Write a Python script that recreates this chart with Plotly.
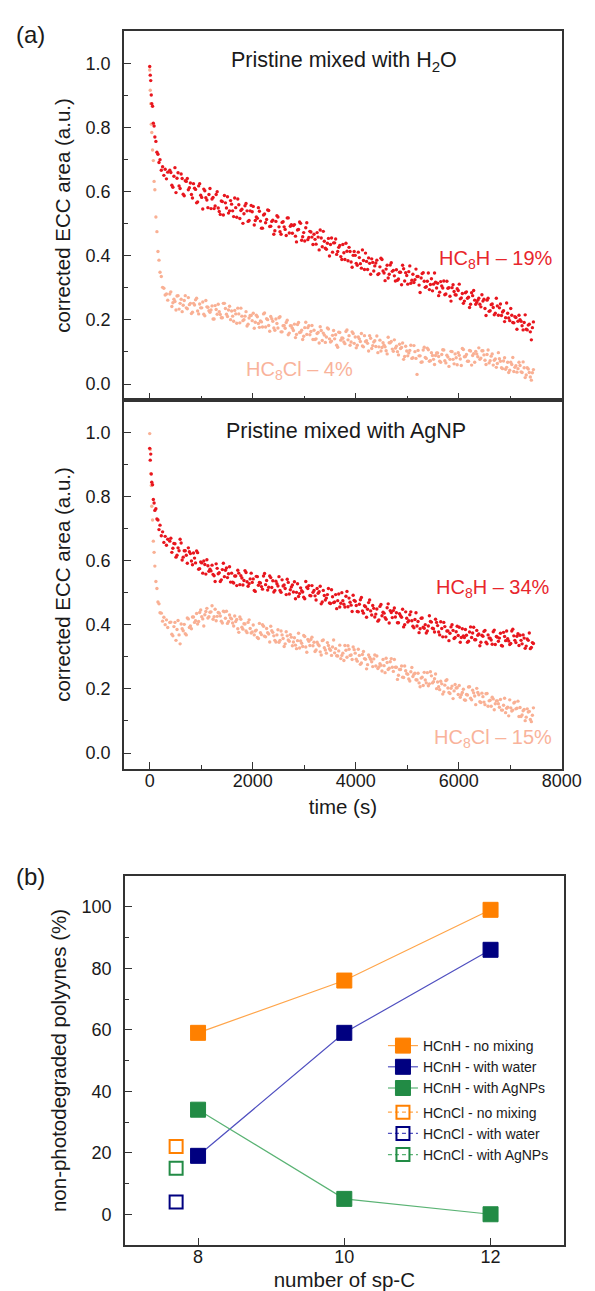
import plotly.graph_objects as go

# ---------------- data: panel (a) ----------------
# first sampling pass (time in s)
time_s = [
    0, 10, 20, 30, 40, 55, 70, 85, 100, 120,
    140, 160, 180, 200, 225, 250, 275, 300, 325, 350,
    390, 430, 470, 510, 550, 590, 630, 670, 710, 750,
    790, 830, 870, 910, 950, 990, 1030, 1070, 1110, 1150,
    1190, 1230, 1270, 1310, 1350, 1390, 1430, 1470, 1510, 1550,
    1590, 1630, 1670, 1710, 1750, 1790, 1830, 1870, 1910, 1950,
    1990, 2030, 2070, 2110, 2150, 2190, 2230, 2270, 2310, 2350,
    2390, 2430, 2470, 2510, 2550, 2590, 2630, 2670, 2710, 2750,
    2790, 2830, 2870, 2910, 2950, 2990, 3030, 3070, 3110, 3150,
    3190, 3230, 3270, 3310, 3350, 3390, 3430, 3470, 3510, 3550,
    3590, 3630, 3670, 3710, 3750, 3790, 3830, 3870, 3910, 3950,
    3990, 4030, 4070, 4110, 4150, 4190, 4230, 4270, 4310, 4350,
    4390, 4430, 4470, 4510, 4550, 4590, 4630, 4670, 4710, 4750,
    4790, 4830, 4870, 4910, 4950, 4990, 5030, 5070, 5110, 5150,
    5190, 5230, 5270, 5310, 5350, 5390, 5430, 5470, 5510, 5550,
    5590, 5630, 5670, 5710, 5750, 5790, 5830, 5870, 5910, 5950,
    5990, 6030, 6070, 6110, 6150, 6190, 6230, 6270, 6310, 6350,
    6390, 6430, 6470, 6510, 6550, 6590, 6630, 6670, 6710, 6750,
    6790, 6830, 6870, 6910, 6950, 6990, 7030, 7070, 7110, 7150,
    7190, 7230, 7270, 7310, 7350, 7390, 7430,
]

# second sampling pass (interleaved times, s)
time_s_b = [
    410, 450, 490, 530, 570, 610, 650, 690, 730, 770,
    810, 850, 890, 930, 970, 1010, 1050, 1090, 1130, 1170,
    1210, 1250, 1290, 1330, 1370, 1410, 1450, 1490, 1530, 1570,
    1610, 1650, 1690, 1730, 1770, 1810, 1850, 1890, 1930, 1970,
    2010, 2050, 2090, 2130, 2170, 2210, 2250, 2290, 2330, 2370,
    2410, 2450, 2490, 2530, 2570, 2610, 2650, 2690, 2730, 2770,
    2810, 2850, 2890, 2930, 2970, 3010, 3050, 3090, 3130, 3170,
    3210, 3250, 3290, 3330, 3370, 3410, 3450, 3490, 3530, 3570,
    3610, 3650, 3690, 3730, 3770, 3810, 3850, 3890, 3930, 3970,
    4010, 4050, 4090, 4130, 4170, 4210, 4250, 4290, 4330, 4370,
    4410, 4450, 4490, 4530, 4570, 4610, 4650, 4690, 4730, 4770,
    4810, 4850, 4890, 4930, 4970, 5010, 5050, 5090, 5130, 5170,
    5210, 5250, 5290, 5330, 5370, 5410, 5450, 5490, 5530, 5570,
    5610, 5650, 5690, 5730, 5770, 5810, 5850, 5890, 5930, 5970,
    6010, 6050, 6090, 6130, 6170, 6210, 6250, 6290, 6330, 6370,
    6410, 6450, 6490, 6530, 6570, 6610, 6650, 6690, 6730, 6770,
    6810, 6850, 6890, 6930, 6970, 7010, 7050, 7090, 7130, 7170,
    7210, 7250, 7290, 7330, 7370, 7410, 7450,
]

# Pristine mixed with H2O -- HC8H
h2o_hc8h = [
    0.992, 0.965, 0.948, 0.903, 0.876, 0.868, 0.815, 0.806, 0.772, 0.758,
    0.724, 0.718, 0.692, 0.701, 0.668, 0.679, 0.652, 0.671, 0.641, 0.662,
    0.668, 0.621, 0.649, 0.598, 0.660, 0.611, 0.642, 0.588, 0.633, 0.607,
    0.628, 0.581, 0.612, 0.566, 0.619, 0.590, 0.547, 0.604, 0.575, 0.592,
    0.548, 0.583, 0.556, 0.601, 0.539, 0.572, 0.528, 0.566, 0.585, 0.541,
    0.562, 0.523, 0.551, 0.578, 0.517, 0.546, 0.532, 0.564, 0.508, 0.541,
    0.538, 0.497, 0.522, 0.551, 0.509, 0.487, 0.531, 0.514, 0.542, 0.493,
    0.512, 0.479, 0.526, 0.491, 0.468, 0.507, 0.483, 0.519, 0.472, 0.498,
    0.495, 0.462, 0.481, 0.506, 0.449, 0.473, 0.488, 0.451, 0.477, 0.459,
    0.468, 0.437, 0.459, 0.481, 0.429, 0.446, 0.421, 0.455, 0.436, 0.412,
    0.441, 0.405, 0.427, 0.398, 0.436, 0.389, 0.415, 0.427, 0.381, 0.402,
    0.402, 0.371, 0.395, 0.362, 0.386, 0.409, 0.358, 0.377, 0.391, 0.353,
    0.378, 0.342, 0.366, 0.389, 0.347, 0.359, 0.331, 0.372, 0.352, 0.338,
    0.357, 0.328, 0.349, 0.371, 0.322, 0.339, 0.351, 0.315, 0.343, 0.326,
    0.336, 0.309, 0.331, 0.348, 0.302, 0.321, 0.295, 0.329, 0.312, 0.318,
    0.315, 0.287, 0.306, 0.322, 0.281, 0.299, 0.274, 0.301, 0.289, 0.278,
    0.292, 0.266, 0.283, 0.259, 0.288, 0.271, 0.249, 0.276, 0.262, 0.255,
    0.268, 0.241, 0.259, 0.236, 0.262, 0.227, 0.248, 0.239, 0.221, 0.244,
    0.238, 0.214, 0.229, 0.207, 0.221, 0.198, 0.215, 0.191, 0.208, 0.196,
    0.201, 0.182, 0.192, 0.171, 0.184, 0.163, 0.176,
]
h2o_hc8h_b = [
    0.661, 0.615, 0.676, 0.643, 0.619, 0.656, 0.593, 0.635, 0.642, 0.613,
    0.592, 0.626, 0.608, 0.569, 0.626, 0.583, 0.609, 0.582, 0.551, 0.611,
    0.578, 0.548, 0.592, 0.550, 0.530, 0.570, 0.589, 0.550, 0.534, 0.573,
    0.541, 0.581, 0.521, 0.560, 0.542, 0.502, 0.557, 0.541, 0.511, 0.558,
    0.555, 0.511, 0.518, 0.540, 0.487, 0.528, 0.504, 0.544, 0.492, 0.508,
    0.468, 0.508, 0.522, 0.476, 0.505, 0.491, 0.464, 0.519, 0.493, 0.471,
    0.498, 0.444, 0.483, 0.502, 0.460, 0.447, 0.504, 0.458, 0.475, 0.436,
    0.452, 0.473, 0.419, 0.456, 0.477, 0.424, 0.440, 0.400, 0.456, 0.441,
    0.453, 0.414, 0.433, 0.389, 0.410, 0.440, 0.385, 0.414, 0.365, 0.414,
    0.377, 0.412, 0.376, 0.419, 0.358, 0.383, 0.394, 0.343, 0.380, 0.369,
    0.387, 0.345, 0.393, 0.353, 0.323, 0.371, 0.343, 0.379, 0.355, 0.322,
    0.324, 0.349, 0.310, 0.360, 0.348, 0.312, 0.369, 0.324, 0.317, 0.359,
    0.336, 0.286, 0.345, 0.321, 0.304, 0.347, 0.311, 0.291, 0.347, 0.300,
    0.276, 0.320, 0.300, 0.279, 0.321, 0.301, 0.259, 0.310, 0.279, 0.298,
    0.312, 0.269, 0.252, 0.285, 0.268, 0.239, 0.285, 0.292, 0.249, 0.262,
    0.249, 0.279, 0.265, 0.214, 0.268, 0.229, 0.250, 0.216, 0.268, 0.215,
    0.250, 0.225, 0.195, 0.253, 0.206, 0.236, 0.192, 0.210, 0.171, 0.215,
    0.196, 0.169, 0.216, 0.169, 0.187, 0.138, 0.194,
]

# Pristine mixed with H2O -- HC8Cl
h2o_hc8cl = [
    0.981, 0.918, 0.876, 0.812, 0.786, 0.731, 0.698, 0.633, 0.607, 0.522,
    0.476, 0.414, 0.387, 0.349, 0.336, 0.302, 0.299, 0.278, 0.281, 0.262,
    0.281, 0.242, 0.265, 0.231, 0.276, 0.252, 0.226, 0.261, 0.238, 0.270,
    0.252, 0.224, 0.247, 0.268, 0.219, 0.238, 0.256, 0.213, 0.241, 0.229,
    0.231, 0.203, 0.245, 0.218, 0.226, 0.207, 0.252, 0.236, 0.211, 0.243,
    0.228, 0.196, 0.219, 0.237, 0.191, 0.212, 0.201, 0.226, 0.187, 0.214,
    0.198, 0.174, 0.215, 0.189, 0.197, 0.178, 0.222, 0.204, 0.183, 0.211,
    0.196, 0.168, 0.189, 0.207, 0.163, 0.182, 0.174, 0.199, 0.159, 0.181,
    0.167, 0.145, 0.186, 0.161, 0.168, 0.149, 0.193, 0.176, 0.154, 0.183,
    0.168, 0.141, 0.161, 0.179, 0.136, 0.153, 0.147, 0.172, 0.131, 0.152,
    0.141, 0.121, 0.162, 0.137, 0.143, 0.126, 0.169, 0.151, 0.131, 0.158,
    0.147, 0.121, 0.141, 0.158, 0.116, 0.133, 0.127, 0.151, 0.111, 0.131,
    0.117, 0.098, 0.137, 0.114, 0.121, 0.104, 0.146, 0.129, 0.109, 0.138,
    0.118, 0.091, 0.111, 0.128, 0.086, 0.103, 0.097, 0.121, 0.082, 0.101,
    0.030, 0.088, 0.068, 0.106, 0.083, 0.112, 0.071, 0.098, 0.077, 0.089,
    0.097, 0.071, 0.092, 0.106, 0.066, 0.084, 0.077, 0.101, 0.063, 0.082,
    0.098, 0.078, 0.111, 0.085, 0.092, 0.071, 0.103, 0.089, 0.068, 0.094,
    0.113, 0.081, 0.104, 0.074, 0.092, 0.066, 0.087, 0.059, 0.078, 0.064,
    0.079, 0.051, 0.072, 0.046, 0.068, 0.043, 0.061, 0.039, 0.057, 0.048,
    0.058, 0.036, 0.051, 0.028, 0.047, 0.022, 0.035,
]
h2o_hc8cl_b = [
    0.288, 0.254, 0.258, 0.275, 0.234, 0.265, 0.246, 0.276, 0.235, 0.248,
    0.220, 0.252, 0.263, 0.228, 0.250, 0.238, 0.218, 0.261, 0.240, 0.224,
    0.244, 0.203, 0.233, 0.249, 0.217, 0.207, 0.252, 0.218, 0.231, 0.201,
    0.212, 0.230, 0.190, 0.219, 0.237, 0.198, 0.212, 0.181, 0.206, 0.214,
    0.221, 0.193, 0.210, 0.177, 0.194, 0.219, 0.178, 0.201, 0.165, 0.204,
    0.175, 0.203, 0.175, 0.210, 0.163, 0.183, 0.192, 0.154, 0.182, 0.174,
    0.187, 0.155, 0.192, 0.162, 0.139, 0.176, 0.155, 0.182, 0.164, 0.139,
    0.139, 0.158, 0.128, 0.167, 0.159, 0.130, 0.175, 0.141, 0.134, 0.167,
    0.154, 0.115, 0.161, 0.144, 0.131, 0.164, 0.138, 0.121, 0.163, 0.127,
    0.113, 0.147, 0.133, 0.119, 0.151, 0.135, 0.103, 0.143, 0.120, 0.135,
    0.150, 0.116, 0.103, 0.129, 0.116, 0.094, 0.129, 0.133, 0.102, 0.112,
    0.101, 0.124, 0.114, 0.077, 0.118, 0.088, 0.105, 0.080, 0.120, 0.080,
    0.105, 0.088, 0.069, 0.115, 0.080, 0.107, 0.073, 0.089, 0.061, 0.097,
    0.086, 0.068, 0.107, 0.073, 0.090, 0.055, 0.102, 0.077, 0.094, 0.060,
    0.090, 0.058, 0.108, 0.086, 0.071, 0.105, 0.059, 0.095, 0.102, 0.085,
    0.077, 0.104, 0.091, 0.061, 0.106, 0.073, 0.094, 0.074, 0.052, 0.098,
    0.071, 0.048, 0.082, 0.052, 0.036, 0.068, 0.083, 0.052, 0.037, 0.068,
    0.038, 0.069, 0.020, 0.051, 0.036, 0.012, 0.045,
]

# Pristine mixed with AgNP -- HC8H
agnp_hc8h = [
    0.952, 0.915, 0.934, 0.872, 0.846, 0.838, 0.792, 0.781, 0.758, 0.763,
    0.731, 0.728, 0.698, 0.712, 0.679, 0.691, 0.658, 0.677, 0.649, 0.668,
    0.662, 0.627, 0.655, 0.612, 0.641, 0.668, 0.603, 0.632, 0.618, 0.641,
    0.623, 0.588, 0.609, 0.631, 0.574, 0.597, 0.562, 0.589, 0.604, 0.568,
    0.569, 0.558, 0.536, 0.577, 0.563, 0.541, 0.593, 0.571, 0.548, 0.582,
    0.562, 0.531, 0.553, 0.571, 0.526, 0.547, 0.539, 0.564, 0.521, 0.544,
    0.533, 0.508, 0.552, 0.524, 0.531, 0.512, 0.561, 0.539, 0.518, 0.548,
    0.538, 0.508, 0.529, 0.551, 0.502, 0.522, 0.514, 0.543, 0.497, 0.519,
    0.503, 0.482, 0.529, 0.498, 0.507, 0.487, 0.536, 0.514, 0.492, 0.523,
    0.508, 0.478, 0.499, 0.521, 0.472, 0.492, 0.484, 0.514, 0.467, 0.488,
    0.472, 0.451, 0.497, 0.468, 0.476, 0.456, 0.505, 0.484, 0.462, 0.493,
    0.474, 0.442, 0.465, 0.486, 0.437, 0.457, 0.449, 0.478, 0.431, 0.452,
    0.434, 0.412, 0.458, 0.429, 0.437, 0.418, 0.466, 0.445, 0.423, 0.453,
    0.438, 0.407, 0.429, 0.449, 0.401, 0.421, 0.413, 0.441, 0.396, 0.417,
    0.397, 0.376, 0.421, 0.393, 0.401, 0.381, 0.429, 0.409, 0.388, 0.418,
    0.398, 0.369, 0.389, 0.408, 0.363, 0.381, 0.374, 0.401, 0.358, 0.379,
    0.367, 0.346, 0.388, 0.361, 0.368, 0.349, 0.394, 0.375, 0.354, 0.383,
    0.372, 0.346, 0.365, 0.383, 0.341, 0.359, 0.353, 0.379, 0.339, 0.362,
    0.359, 0.336, 0.377, 0.351, 0.357, 0.339, 0.381, 0.366, 0.345, 0.373,
    0.368, 0.341, 0.359, 0.334, 0.352, 0.326, 0.345,
]
agnp_hc8h_b = [
    0.671, 0.640, 0.654, 0.618, 0.632, 0.656, 0.612, 0.632, 0.593, 0.629,
    0.600, 0.625, 0.594, 0.626, 0.576, 0.594, 0.600, 0.559, 0.585, 0.574,
    0.587, 0.554, 0.591, 0.560, 0.536, 0.573, 0.551, 0.578, 0.560, 0.534,
    0.534, 0.553, 0.523, 0.562, 0.554, 0.525, 0.570, 0.535, 0.529, 0.562,
    0.544, 0.505, 0.551, 0.533, 0.520, 0.553, 0.526, 0.509, 0.553, 0.517,
    0.503, 0.537, 0.522, 0.508, 0.541, 0.525, 0.495, 0.533, 0.510, 0.525,
    0.535, 0.502, 0.489, 0.516, 0.503, 0.482, 0.518, 0.523, 0.491, 0.502,
    0.491, 0.514, 0.504, 0.466, 0.508, 0.478, 0.495, 0.469, 0.510, 0.470,
    0.495, 0.476, 0.456, 0.501, 0.465, 0.490, 0.457, 0.471, 0.442, 0.477,
    0.461, 0.441, 0.479, 0.444, 0.460, 0.424, 0.470, 0.444, 0.461, 0.425,
    0.450, 0.416, 0.464, 0.440, 0.423, 0.454, 0.406, 0.439, 0.445, 0.425,
    0.407, 0.435, 0.424, 0.394, 0.441, 0.409, 0.432, 0.413, 0.391, 0.438,
    0.411, 0.388, 0.422, 0.390, 0.375, 0.397, 0.411, 0.390, 0.378, 0.408,
    0.378, 0.410, 0.363, 0.395, 0.381, 0.351, 0.394, 0.383, 0.361, 0.396,
    0.393, 0.361, 0.366, 0.386, 0.346, 0.378, 0.361, 0.393, 0.354, 0.368,
    0.335, 0.368, 0.380, 0.346, 0.369, 0.359, 0.340, 0.384, 0.364, 0.349,
    0.374, 0.334, 0.364, 0.381, 0.350, 0.342, 0.387, 0.352, 0.365, 0.336,
    0.352, 0.369, 0.327, 0.356, 0.375, 0.330, 0.342,
]

# Pristine mixed with AgNP -- HC8Cl
agnp_hc8cl = [
    0.998, 0.948, 0.873, 0.836, 0.771, 0.728, 0.662, 0.627, 0.584, 0.536,
    0.514, 0.472, 0.466, 0.438, 0.437, 0.412, 0.424, 0.401, 0.416, 0.392,
    0.408, 0.371, 0.395, 0.352, 0.414, 0.341, 0.388, 0.402, 0.369, 0.419,
    0.397, 0.425, 0.408, 0.436, 0.411, 0.447, 0.419, 0.432, 0.452, 0.426,
    0.441, 0.418, 0.449, 0.427, 0.437, 0.412, 0.443, 0.421, 0.405, 0.431,
    0.419, 0.397, 0.411, 0.388, 0.425, 0.393, 0.404, 0.381, 0.408, 0.389,
    0.378, 0.369, 0.384, 0.358, 0.376, 0.401, 0.365, 0.389, 0.372, 0.396,
    0.377, 0.352, 0.369, 0.346, 0.381, 0.358, 0.341, 0.366, 0.349, 0.362,
    0.347, 0.337, 0.351, 0.328, 0.343, 0.367, 0.331, 0.355, 0.336, 0.362,
    0.346, 0.322, 0.339, 0.316, 0.351, 0.329, 0.312, 0.336, 0.321, 0.331,
    0.313, 0.304, 0.319, 0.295, 0.312, 0.336, 0.299, 0.324, 0.306, 0.331,
    0.312, 0.287, 0.305, 0.281, 0.317, 0.293, 0.276, 0.299, 0.285, 0.294,
    0.272, 0.264, 0.279, 0.256, 0.273, 0.296, 0.261, 0.285, 0.268, 0.292,
    0.268, 0.243, 0.261, 0.237, 0.272, 0.248, 0.231, 0.254, 0.239, 0.249,
    0.228, 0.219, 0.234, 0.211, 0.228, 0.251, 0.216, 0.241, 0.223, 0.247,
    0.222, 0.198, 0.216, 0.191, 0.226, 0.203, 0.186, 0.209, 0.194, 0.203,
    0.183, 0.174, 0.189, 0.166, 0.183, 0.206, 0.171, 0.196, 0.178, 0.202,
    0.182, 0.158, 0.176, 0.151, 0.186, 0.163, 0.146, 0.169, 0.154, 0.163,
    0.143, 0.134, 0.149, 0.126, 0.143, 0.166, 0.131, 0.156, 0.138, 0.162,
    0.142, 0.119, 0.136, 0.112, 0.128, 0.105, 0.118,
]
agnp_hc8cl_b = [
    0.409, 0.366, 0.408, 0.386, 0.369, 0.403, 0.382, 0.373, 0.422, 0.392,
    0.388, 0.425, 0.413, 0.403, 0.439, 0.426, 0.397, 0.442, 0.422, 0.440,
    0.460, 0.426, 0.413, 0.439, 0.428, 0.406, 0.441, 0.443, 0.411, 0.422,
    0.406, 0.428, 0.417, 0.377, 0.418, 0.387, 0.403, 0.376, 0.416, 0.375,
    0.400, 0.381, 0.361, 0.405, 0.370, 0.396, 0.363, 0.376, 0.347, 0.382,
    0.366, 0.347, 0.385, 0.352, 0.369, 0.333, 0.379, 0.353, 0.370, 0.335,
    0.360, 0.326, 0.374, 0.350, 0.333, 0.364, 0.315, 0.349, 0.355, 0.335,
    0.317, 0.346, 0.335, 0.306, 0.353, 0.322, 0.345, 0.326, 0.305, 0.353,
    0.326, 0.303, 0.337, 0.305, 0.289, 0.321, 0.335, 0.305, 0.292, 0.323,
    0.293, 0.324, 0.277, 0.308, 0.295, 0.263, 0.306, 0.293, 0.270, 0.306,
    0.303, 0.269, 0.274, 0.292, 0.251, 0.283, 0.265, 0.295, 0.255, 0.268,
    0.230, 0.261, 0.272, 0.236, 0.257, 0.246, 0.225, 0.267, 0.246, 0.229,
    0.249, 0.207, 0.237, 0.252, 0.219, 0.210, 0.254, 0.219, 0.232, 0.201,
    0.207, 0.224, 0.184, 0.212, 0.229, 0.189, 0.202, 0.170, 0.214, 0.204,
    0.211, 0.182, 0.199, 0.165, 0.181, 0.207, 0.166, 0.188, 0.151, 0.189,
    0.160, 0.187, 0.159, 0.185, 0.146, 0.165, 0.174, 0.135, 0.163, 0.154,
    0.167, 0.134, 0.171, 0.140, 0.116, 0.141, 0.134, 0.159, 0.140, 0.114,
    0.114, 0.132, 0.101, 0.138, 0.130, 0.098, 0.141,
]

# ---------------- data: panel (b) ----------------
n_sp_c = [8, 10, 12]
hcnh_no_mixing = [59, 76, 99]
hcnh_with_water = [19, 59, 86]
hcnh_with_agnps = [34, 5, 0]
hcncl_x = [7.7]
hcncl_no_mixing = [22]
hcncl_with_water = [4]
hcncl_with_agnps = [15]

# ---------------- styling ----------------
W, H = 595, 1291
FONT = "Liberation Sans, Arial, Helvetica, sans-serif"
RED = "#E8161E"
SALMON = "#F9B094"
ORANGE = "#FF8000"
NAVY = "#000080"
GREEN = "#228B45"
AXC = "#333333"
TXT = "#1a1a1a"


def fx(p):
    return p / W


def fy(p):
    return 1 - p / H


fig = go.Figure()

dot = dict(size=3.4, line=dict(width=0))
t_all = time_s + time_s_b
# top panel
fig.add_trace(go.Scatter(x=t_all, y=h2o_hc8cl + h2o_hc8cl_b, mode="markers",
                         marker=dict(color=SALMON, **dot), xaxis="x", yaxis="y", showlegend=False))
fig.add_trace(go.Scatter(x=t_all, y=h2o_hc8h + h2o_hc8h_b, mode="markers",
                         marker=dict(color=RED, **dot), xaxis="x", yaxis="y", showlegend=False))
# bottom panel
fig.add_trace(go.Scatter(x=t_all, y=agnp_hc8cl + agnp_hc8cl_b, mode="markers",
                         marker=dict(color=SALMON, **dot), xaxis="x2", yaxis="y2", showlegend=False))
fig.add_trace(go.Scatter(x=t_all, y=agnp_hc8h + agnp_hc8h_b, mode="markers",
                         marker=dict(color=RED, **dot), xaxis="x2", yaxis="y2", showlegend=False))

# panel (b)
filled = [
    ("HCnH - no mixing", hcnh_no_mixing, ORANGE, "#FFA54A"),
    ("HCnH - with water", hcnh_with_water, NAVY, "#5050C0"),
    ("HCnH - with AgNPs", hcnh_with_agnps, GREEN, "#5AB374"),
]
for name, yv, c, lc in filled:
    fig.add_trace(go.Scatter(
        x=n_sp_c, y=yv, mode="lines+markers", name=name,
        line=dict(color=lc, width=1.2),
        marker=dict(symbol="square", size=15, color=c, line=dict(color=c, width=1)),
        xaxis="x3", yaxis="y3", legendgroup="H"))

opened = [
    ("HCnCl - no mixing", hcncl_no_mixing, ORANGE, "#FFA54A"),
    ("HCnCl - with water", hcncl_with_water, NAVY, "#5050C0"),
    ("HCnCl - with AgNPs", hcncl_with_agnps, GREEN, "#5AB374"),
]
for name, yv, c, lc in opened:
    fig.add_trace(go.Scatter(
        x=hcncl_x, y=yv, mode="lines+markers", name=name,
        line=dict(color=lc, width=1.2, dash="4px,3px"),
        marker=dict(symbol="square-open", size=13, color=c, line=dict(color=c, width=2)),
        xaxis="x3", yaxis="y3", legendgroup="Cl"))

tickfont = dict(family=FONT, size=18, color=TXT)
titlefont = dict(family=FONT, size=20.5, color=TXT)

common = dict(showline=True, linecolor=AXC, linewidth=1.5, mirror=True,
              ticks="inside", tickcolor=AXC, tickwidth=1.3, ticklen=7,
              showgrid=False, zeroline=False, tickfont=tickfont)

xa_time = dict(range=[-500, 8000], tick0=0, dtick=2000,
               minor=dict(ticks="inside", dtick=1000, ticklen=4, tickcolor=AXC, tickwidth=1.2),
               **common)
ya_ecc = dict(range=[-0.05, 1.103], tick0=0, dtick=0.2, tickformat=".1f",
              minor=dict(ticks="inside", dtick=0.1, ticklen=4, tickcolor=AXC, tickwidth=1.2),
              ticklabelstandoff=8,
              title=dict(text="corrected ECC area (a.u.)", font=titlefont, standoff=9),
              **common)

fig.update_layout(
    width=W, height=H,
    margin=dict(l=0, r=0, t=0, b=0),
    paper_bgcolor="white", plot_bgcolor="white",
    font=dict(family=FONT, color=TXT),
    xaxis=dict(domain=[fx(120), fx(573)], anchor="y", showticklabels=False, **xa_time),
    yaxis=dict(domain=[fy(392), fy(23)], anchor="x", **ya_ecc),
    xaxis2=dict(domain=[fx(120), fx(573)], anchor="y2", ticklabelstandoff=-5,
                title=dict(text="time (s)", font=titlefont, standoff=9), **xa_time),
    yaxis2=dict(domain=[fy(761), fy(392)], anchor="x2", **ya_ecc),
    xaxis3=dict(domain=[fx(121), fx(575)], anchor="y3", range=[7, 13], tick0=0, dtick=2,
                ticklabelstandoff=-5,
                title=dict(text="number of sp-C", font=titlefont, standoff=6), **common),
    yaxis3=dict(domain=[fy(1237), fy(868)], anchor="x3", range=[-10, 110], tick0=0, dtick=20,
                minor=dict(ticks="inside", dtick=10, ticklen=4, tickcolor=AXC, tickwidth=1.2),
                ticklabelstandoff=8,
                title=dict(text="non-photodegraded polyynes (%)", font=titlefont, standoff=9),
                **common),
    legend=dict(x=fx(388), y=fy(1022), xanchor="left", yanchor="top",
                font=dict(family=FONT, size=14, color=TXT),
                bgcolor="rgba(0,0,0,0)", tracegroupgap=3, traceorder="grouped"),
)

ann_font = dict(family=FONT, size=20)
title_font = dict(family=FONT, size=21.5, color=TXT)
annotations = [
    dict(text="(a)", x=fx(23), y=fy(27), font=dict(family=FONT, size=24, color=TXT)),
    dict(text="(b)", x=fx(23), y=fy(868), font=dict(family=FONT, size=24, color=TXT)),
    dict(text="Pristine mixed with H<sub>2</sub>O", x=fx(348), y=fy(54), font=title_font),
    dict(text="Pristine mixed with AgNP", x=fx(350), y=fy(423), font=title_font),
    dict(text="HC<sub>8</sub>H – 19%", x=fx(505), y=fy(251), font=dict(ann_font, color="#E8262C")),
    dict(text="HC<sub>8</sub>Cl – 4%", x=fx(302), y=fy(363), font=dict(ann_font, color="#F9B39B")),
    dict(text="HC<sub>8</sub>H – 34%", x=fx(502), y=fy(580), font=dict(ann_font, color="#E8262C")),
    dict(text="HC<sub>8</sub>Cl – 15%", x=fx(502), y=fy(730), font=dict(ann_font, color="#F9B39B")),
]
for a in annotations:
    a.update(xref="paper", yref="paper", showarrow=False, xanchor="center", yanchor="middle")
fig.update_layout(annotations=annotations)

fig.write_html("out.html")
